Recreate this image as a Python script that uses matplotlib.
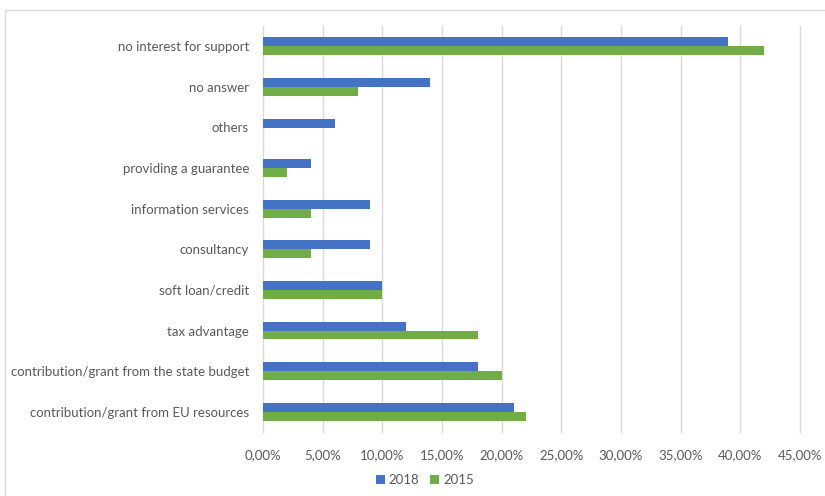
import numpy as np
import matplotlib.pyplot as plt
from matplotlib.patches import Rectangle
from matplotlib.ticker import FuncFormatter

categories = ['contribution/grant from EU resources',
              'contribution/grant from the state budget',
              'tax advantage',
              'soft loan/credit',
              'consultancy',
              'information services',
              'providing a guarantee',
              'others',
              'no answer',
              'no interest for support']
v2018 = [21, 18, 12, 10, 9, 9, 4, 6, 14, 39]
v2015 = [22, 20, 18, 10, 4, 4, 2, 0, 8, 42]

plt.rcParams['font.family'] = ['Lato', 'DejaVu Sans']
txt = '#595959'
fs = 9.5

fig = plt.figure(figsize=(8.25, 4.96), dpi=100)
ax = fig.add_axes([263/825, 1-432/496, 537/825, 406/496])

y = np.arange(len(categories))
h = 0.22
ax.barh(y + h/2, v2018, height=h, color='#4472C4', label='2018', zorder=3)
ax.barh(y - h/2, v2015, height=h, color='#70AD47', label='2015', zorder=3)

ax.set_xlim(0, 45)
ax.set_ylim(-0.5, len(categories) - 0.5)
ax.set_xticks(np.arange(0, 46, 5))
ax.xaxis.set_major_formatter(FuncFormatter(lambda v, p: f'{v:.2f}%'.replace('.', ',')))
ax.set_yticks(y)
ax.set_yticklabels(categories)
ax.tick_params(length=0, labelsize=fs, colors=txt)
ax.tick_params(axis='y', pad=10)
ax.tick_params(axis='x', pad=12)
ax.grid(axis='x', color='#D9D9D9', linewidth=1, zorder=0)
for gl in ax.get_xgridlines():
    gl.set_clip_on(False)
for s in ax.spines.values():
    s.set_visible(False)

fig.legend(loc='center', bbox_to_anchor=(0.515, 1-480/496), ncol=2, frameon=False,
           fontsize=fs, labelcolor=txt, handlelength=0.7, handleheight=0.7,
           columnspacing=0.8, handletextpad=0.3)

fig.patches.append(Rectangle((5/825, -0.1), 1.0, 1-10/496+0.1, transform=fig.transFigure,
                             fill=False, edgecolor='#D9D9D9', linewidth=1))

fig.savefig('out.png', dpi=100)
